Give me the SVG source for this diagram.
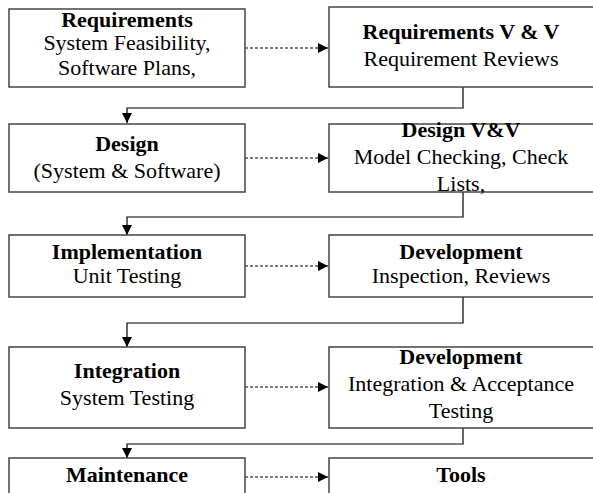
<svg xmlns="http://www.w3.org/2000/svg" width="593" height="493" viewBox="0 0 593 493">
<style>
.box{fill:#fff;stroke:#444;stroke-width:1.5}
text{font-family:"Liberation Serif","Times New Roman",serif;font-size:22px;fill:#000;text-anchor:middle}
.b{font-weight:bold}
.flow{fill:none;stroke:#000;stroke-width:1.2}
.dash{fill:none;stroke:#000;stroke-width:1.2;stroke-dasharray:3,2}
</style>
<defs>
<marker id="ah" markerUnits="userSpaceOnUse" markerWidth="11" markerHeight="10" refX="10" refY="5" orient="auto">
<path d="M0,0 L10,5 L0,10 Z" fill="#000"/>
</marker>
</defs>
<rect width="593" height="493" fill="#fff"/>
<g id="connectors">
<path class="dash" d="M245,48 H328" marker-end="url(#ah)"/>
<path class="dash" d="M245,158 H328" marker-end="url(#ah)"/>
<path class="dash" d="M245,266 H328" marker-end="url(#ah)"/>
<path class="dash" d="M245,387 H328" marker-end="url(#ah)"/>
<path class="dash" d="M245,477 H328" marker-end="url(#ah)"/>
<path class="flow" d="M463,87 V108 H127 V123" marker-end="url(#ah)"/>
<path class="flow" d="M463,192 V217 H127 V235" marker-end="url(#ah)"/>
<path class="flow" d="M463,297 V323 H127 V347" marker-end="url(#ah)"/>
<path class="flow" d="M463,428 V444 H127 V458" marker-end="url(#ah)"/>
</g>
<g id="requirements">
<rect class="box" x="9" y="9" width="236" height="78"/>
<text x="127" y="27" class="b">Requirements</text>
<text x="127" y="50">System Feasibility,</text>
<text x="127" y="75">Software Plans,</text>
</g>
<g id="requirements-vv">
<rect class="box" x="329" y="7" width="266" height="80"/>
<text x="461" y="39" class="b">Requirements V &amp; V</text>
<text x="461" y="66">Requirement Reviews</text>
</g>
<g id="design">
<rect class="box" x="9" y="124" width="236" height="68"/>
<text x="127" y="151" class="b">Design</text>
<text x="127" y="178">(System &amp; Software)</text>
</g>
<g id="design-vv">
<rect class="box" x="329" y="124" width="266" height="68"/>
<text x="461" y="137" class="b">Design V&amp;V</text>
<text x="461" y="164">Model Checking, Check</text>
<text x="461" y="191">Lists,</text>
</g>
<g id="implementation">
<rect class="box" x="9" y="235" width="236" height="62"/>
<text x="127" y="259" class="b">Implementation</text>
<text x="127" y="283">Unit Testing</text>
</g>
<g id="development-1">
<rect class="box" x="329" y="235" width="266" height="62"/>
<text x="461" y="259" class="b">Development</text>
<text x="461" y="283">Inspection, Reviews</text>
</g>
<g id="integration">
<rect class="box" x="9" y="347" width="236" height="81"/>
<text x="127" y="378" class="b">Integration</text>
<text x="127" y="405">System Testing</text>
</g>
<g id="development-2">
<rect class="box" x="329" y="347" width="266" height="81"/>
<text x="461" y="364" class="b">Development</text>
<text x="461" y="391">Integration &amp; Acceptance</text>
<text x="461" y="418">Testing</text>
</g>
<g id="maintenance">
<rect class="box" x="9" y="458" width="236" height="50"/>
<text x="127" y="482" class="b">Maintenance</text>
</g>
<g id="tools">
<rect class="box" x="329" y="458" width="266" height="50"/>
<text x="461" y="482" class="b">Tools</text>
</g>
</svg>
